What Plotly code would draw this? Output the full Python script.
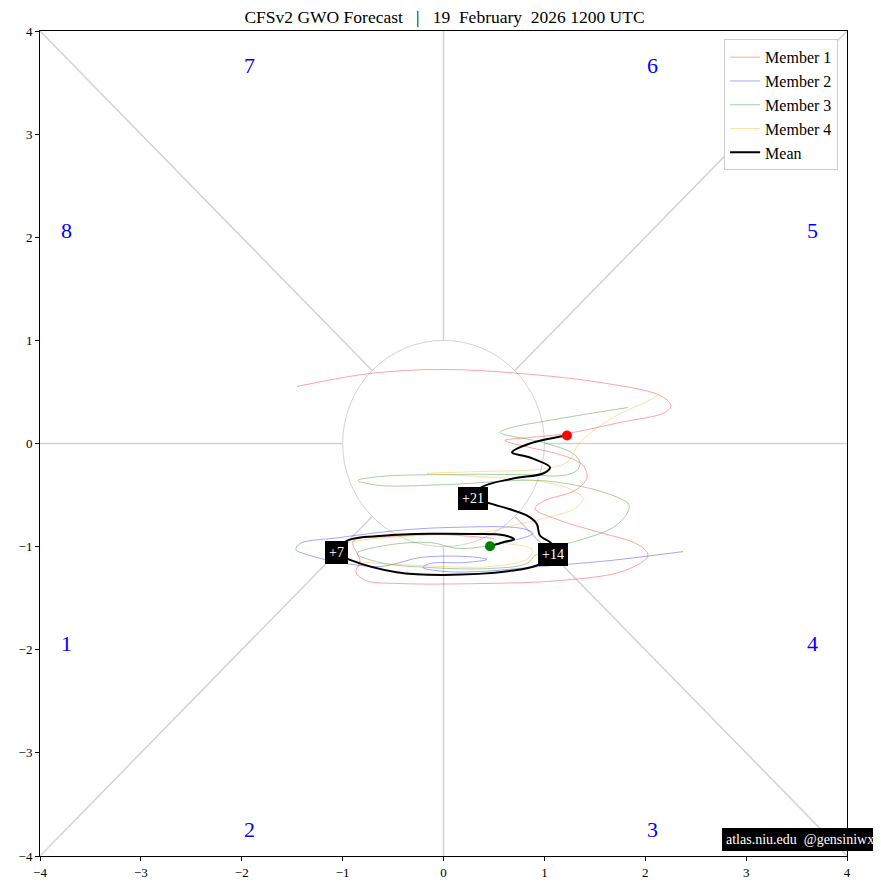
import math
import plotly.graph_objects as go

# ---------------- data ----------------
member1_x = [0.500, -0.035, -0.530, -0.897, -0.828, -0.867, -0.768, -0.431, 0.362, 1.155,
             1.799, 2.027, 1.928, 1.551, 1.155, 0.907, 1.006, 1.303, 1.422, 1.383,
             1.184, 0.857, 0.609, 0.857, 1.224, 1.749, 2.195, 2.255, 2.146, 1.551,
             0.758, -0.005, -0.728, -1.452]
member1_y = [-0.921, -0.883, -0.902, -0.951, -1.135, -1.251, -1.329, -1.358, -1.358, -1.329,
             -1.232, -1.086, -0.980, -0.863, -0.747, -0.630, -0.553, -0.456, -0.330, -0.213,
             -0.116, -0.039, 0.029, 0.058, 0.097, 0.204, 0.301, 0.369, 0.466, 0.592,
             0.679, 0.718, 0.679, 0.553]

member2_x = [0.689, 0.887, 0.778, 0.035, -0.461, -1.026, -1.422, -1.462, -1.323, -1.026,
             -0.629, -0.431, -0.233, 0.233, 0.431, 0.213, -0.134, -0.203, 0.015, 0.362,
             0.956, 1.650, 2.374]
member2_y = [-0.941, -0.873, -0.824, -0.815, -0.844, -0.912, -0.970, -1.028, -1.086, -1.154,
             -1.193, -1.154, -1.106, -1.096, -1.125, -1.154, -1.164, -1.203, -1.241, -1.241,
             -1.193, -1.135, -1.048]

member3_x = [0.659, 0.461, 0.144, -0.134, -0.580, -0.857, -0.629, -0.134, 0.461, 0.828,
             0.907, 1.085, 1.372, 1.680, 1.819, 1.838, 1.749, 1.452, 0.956, 0.035,
             -0.629, -0.847, -0.629, 0.035, 0.758, 1.184, 1.323, 1.353, 1.284, 0.986,
             0.560, 0.639, 1.155, 1.828]
member3_y = [-0.951, -0.990, -1.018, -0.960, -0.989, -1.067, -1.154, -1.203, -1.212, -1.164,
             -1.086, -1.009, -0.931, -0.815, -0.679, -0.592, -0.533, -0.436, -0.359, -0.398,
             -0.407, -0.359, -0.320, -0.301, -0.301, -0.310, -0.262, -0.184, -0.097, 0.010,
             0.107, 0.145, 0.242, 0.349]

member4_x = [0.609, 0.877, 0.837, 0.461, -0.233, -0.828, -1.095, -1.075, -0.828, -0.233,
             0.391, 0.689, 1.026, 1.303, 1.383, 1.284, 1.026, 0.362, -0.164, 0.362,
             1.016, 1.234, 1.353, 1.680, 1.997, 2.127]
member4_y = [-0.970, -1.028, -1.115, -1.193, -1.183, -1.145, -1.086, -1.009, -0.941, -0.892,
             -0.863, -0.795, -0.718, -0.630, -0.533, -0.456, -0.378, -0.320, -0.291, -0.272,
             -0.242, -0.175, 0.010, 0.252, 0.398, 0.466]

mean_x = [0.461, 0.600, 0.700, 0.600, 0.300, -0.134, -0.600, -0.950, -1.060, -0.927,
          -0.464, -0.002, 0.692, 0.924, 1.088, 1.072, 0.956, 0.924, 0.825, 0.478,
          0.295, 0.372, 0.689, 0.986, 1.056, 0.857, 0.679, 0.857, 1.224]
mean_y = [-0.996, -0.955, -0.930, -0.890, -0.878, -0.876, -0.895, -0.940, -1.060, -1.128,
          -1.248, -1.274, -1.232, -1.183, -1.077, -0.973, -0.892, -0.779, -0.698, -0.585,
          -0.531, -0.427, -0.340, -0.291, -0.233, -0.136, -0.087, 0.000, 0.078]

day_labels = ["+7", "+14", "+21"]
day_label_idx = [8, 14, 20]

phase_labels = ["1", "2", "3", "4", "5", "6", "7", "8"]
phase_x = [-3.74, -1.92, 2.07, 3.66, 3.66, 2.07, -1.92, -3.74]
phase_y = [-1.94, -3.74, -3.74, -1.94, 2.07, 3.67, 3.67, 2.07]

tick_vals = [-4, -3, -2, -1, 0, 1, 2, 3, 4]

title_text = "CFSv2 GWO Forecast   |   19  February  2026 1200 UTC"
credit_text = "atlas.niu.edu  @gensiniwx"

# ---------------- styling ----------------
FONT = "Liberation Serif"
LIM = 4
GRID = "#d3d3d3"

fig = go.Figure()

members = [
    ("Member 1", member1_x, member1_y, "rgba(255,0,0,0.4)"),
    ("Member 2", member2_x, member2_y, "rgba(0,0,255,0.4)"),
    ("Member 3", member3_x, member3_y, "rgba(0,128,0,0.4)"),
    ("Member 4", member4_x, member4_y, "rgba(255,165,0,0.4)"),
]
for name, xs, ys, col in members:
    fig.add_trace(go.Scatter(x=xs, y=ys, mode="lines", name=name,
                             line=dict(color=col, width=0.9, shape="spline", smoothing=1.0)))

fig.add_trace(go.Scatter(x=mean_x, y=mean_y, mode="lines", name="Mean",
                         line=dict(color="black", width=2, shape="spline", smoothing=1.0)))

fig.add_trace(go.Scatter(x=[mean_x[0]], y=[mean_y[0]], mode="markers", showlegend=False,
                         marker=dict(color="green", size=10)))
fig.add_trace(go.Scatter(x=[mean_x[-1]], y=[mean_y[-1]], mode="markers", showlegend=False,
                         marker=dict(color="red", size=10)))

# background guides
shapes = []
c = math.sqrt(0.5)
shapes.append(dict(type="circle", x0=-1, y0=-1, x1=1, y1=1, line=dict(color=GRID, width=1), layer="below"))
for (xa, ya, xb, yb) in [(-LIM, 0, -1, 0), (1, 0, LIM, 0), (0, -LIM, 0, -1), (0, 1, 0, LIM),
                         (-LIM, LIM, -c, c), (c, c, LIM, LIM), (-LIM, -LIM, -c, -c), (c, -c, LIM, -LIM)]:
    shapes.append(dict(type="line", x0=xa, y0=ya, x1=xb, y1=yb, line=dict(color=GRID, width=1.5), layer="below"))

annotations = []
for lab, px, py in zip(phase_labels, phase_x, phase_y):
    annotations.append(dict(x=px, y=py, text=lab, showarrow=False,
                            font=dict(family=FONT, size=22, color="blue")))
for lab, i in zip(day_labels, day_label_idx):
    annotations.append(dict(x=mean_x[i], y=mean_y[i], text=lab, showarrow=False,
                            bgcolor="black", bordercolor="black", borderpad=3,
                            font=dict(family=FONT, size=14, color="white")))
annotations.append(dict(xref="paper", yref="paper", x=1.038, y=0.0195, xanchor="right", yanchor="middle",
                        text=credit_text, showarrow=False, bgcolor="black", bordercolor="black",
                        borderpad=3, font=dict(family=FONT, size=14, color="white")))

axis_common = dict(range=[-LIM, LIM], tickvals=tick_vals, showgrid=False, zeroline=False,
                   showline=True, linecolor="black", linewidth=1, mirror=True,
                   ticks="outside", ticklen=4, tickcolor="black", automargin=False,
                   tickfont=dict(family=FONT, size=13, color="black"))

# page body has an 8px margin, so the figure is drawn 8px in from the window edge
fig.update_layout(
    width=873, height=882,
    margin=dict(l=32, r=34, t=23, b=34),
    paper_bgcolor="white", plot_bgcolor="white",
    title=dict(text=title_text, x=0.5, xanchor="center", y=0.99, yanchor="middle",
               font=dict(family=FONT, size=17.5, color="black")),
    xaxis=axis_common,
    yaxis=axis_common,
    shapes=shapes,
    annotations=annotations,
    legend=dict(x=0.989, y=0.990, xanchor="right", yanchor="top",
                bgcolor="white", bordercolor="#cccccc", borderwidth=1,
                font=dict(family=FONT, size=16, color="black")),
    showlegend=True,
)

fig.write_html("out.html")
